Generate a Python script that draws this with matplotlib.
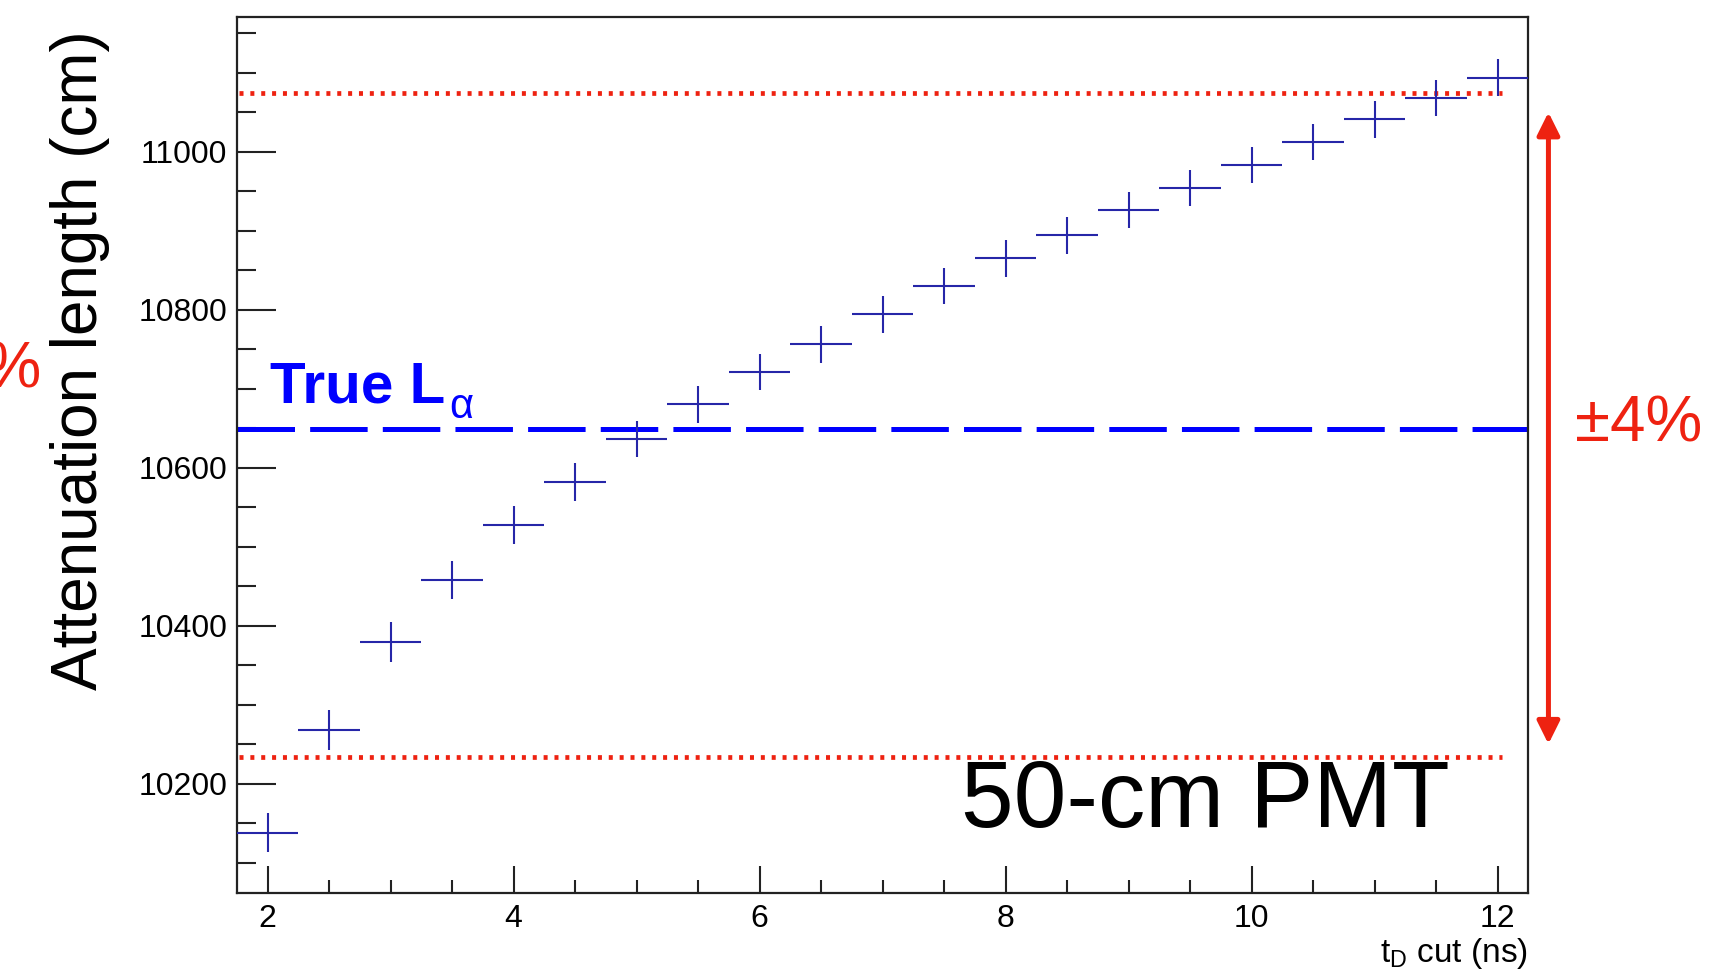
import matplotlib
matplotlib.use("Agg")
import matplotlib.pyplot as plt
from matplotlib.ticker import MultipleLocator

plt.rcParams['font.family'] = ['Liberation Sans', 'DejaVu Sans']

# t_D cut values (ns) and fitted attenuation length (cm)
t_cut = [2.0, 2.5, 3.0, 3.5, 4.0, 4.5, 5.0, 5.5, 6.0, 6.5, 7.0,
         7.5, 8.0, 8.5, 9.0, 9.5, 10.0, 10.5, 11.0, 11.5, 12.0]
atten = [10138, 10268, 10379, 10458, 10527, 10582, 10636, 10680, 10721, 10756, 10794,
         10830, 10865, 10894, 10926, 10954, 10983, 11012, 11041, 11068, 11094]
atten_err = [25, 25, 25, 24, 24, 24, 23, 23, 23, 23, 23,
             23, 23, 23, 23, 23, 23, 23, 23, 23, 23]
bin_half = 0.25

true_L = 10649          # true attenuation length
band_hi = 11075         # +4 %
band_lo = 10234         # -4 %
arrow_top = 11050
arrow_bot = 10250

red = '#ee2211'
mark_blue = '#2626a8'

fig = plt.figure(figsize=(17.11, 9.71), dpi=100)
ax = fig.add_axes([0.1385, 0.080, 0.8932 - 0.1385, 0.9828 - 0.080])

# data points with bin-width x errors
ax.errorbar(t_cut, atten, xerr=bin_half, yerr=atten_err, fmt='none',
            ecolor=mark_blue, elinewidth=1.5, capsize=0, zorder=3)

# true value line
ax.axhline(true_L, color='#0000ff', lw=3.6, dashes=(11.5, 3.03), zorder=2)

# +-4% band limits
for yv in (band_hi, band_lo):
    ax.hlines(yv, 1.765, 12.04, colors=red, lw=3.4, linestyles=(0, (0.85, 1.45)),
              zorder=2)

ax.set_xlim(1.75, 12.25)
ax.set_ylim(10061, 11171)

ax.xaxis.set_major_locator(MultipleLocator(2))
ax.xaxis.set_minor_locator(MultipleLocator(0.5))
ax.yaxis.set_major_locator(MultipleLocator(200))
ax.yaxis.set_minor_locator(MultipleLocator(50))

ax.tick_params(axis='both', which='both', direction='in', top=False, right=False,
               color='#222222', width=1.5, labelsize=23)
ax.tick_params(axis='y', which='major', length=28, pad=7)
ax.tick_params(axis='y', which='minor', length=14)
ax.tick_params(axis='x', which='major', length=19.5, pad=8)
ax.tick_params(axis='x', which='minor', length=9.5)
for sp in ax.spines.values():
    sp.set_linewidth(1.6)
    sp.set_color('#222222')

# labels
fig.text(0.047, 0.629, 'Attenuation length (cm)', rotation=90, fontsize=46,
         ha='center', va='center')
fig.text(0.8932, 0.0096, r't$_\mathregular{D}$ cut (ns)', fontsize=24,
         ha='right', va='baseline')

# annotations inside the plot
t_true = ax.text(2.02, 10683, 'True L', color='#0000ff', fontsize=42,
                 fontweight='bold', ha='left', va='baseline')
ax.annotate('α', xy=(1, 0), xycoords=t_true, xytext=(3, -2.5),
            textcoords='offset points', color='#0000ff', fontsize=30,
            ha='left', va='baseline')
ax.text(0.561, 0.0753, '50-cm PMT', transform=ax.transAxes, fontsize=68,
        ha='left', va='baseline')

# +-4% arrow and labels outside the frame
ax.annotate('', xy=(12.414, arrow_top), xytext=(12.414, arrow_bot),
            arrowprops=dict(arrowstyle='<|-|>,head_length=1.37,head_width=0.68',
                            color=red, lw=3.6, shrinkA=0, shrinkB=0),
            annotation_clip=False)
fig.text(0.9203, 0.5448, '±4%', color=red, fontsize=46, ha='left', va='baseline')
fig.text(0.0243, 0.6014, '±4%', color=red, fontsize=46, ha='right', va='baseline')

fig.savefig('out.png', dpi=100)
